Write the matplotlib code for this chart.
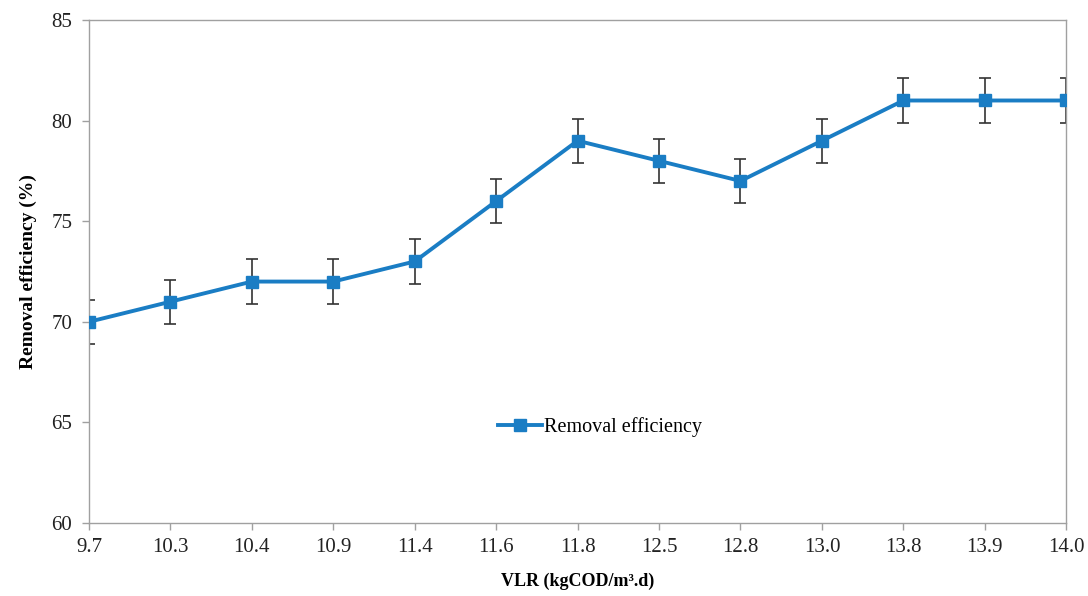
import matplotlib
matplotlib.use("Agg")
import matplotlib.pyplot as plt

vlr = ["9.7", "10.3", "10.4", "10.9", "11.4", "11.6", "11.8", "12.5", "12.8", "13.0", "13.8", "13.9", "14.0"]
removal = [70, 71, 72, 72, 73, 76, 79, 78, 77, 79, 81, 81, 81]
err = [1.1] * 13

plt.rcParams['font.family'] = ['Liberation Serif', 'DejaVu Serif']

fig = plt.figure(figsize=(10.88, 5.96), dpi=100)
ax = fig.add_axes([0.0818, 0.1225, 0.8982, 0.8439])

x = list(range(len(vlr)))
ax.errorbar(x, removal, yerr=err, fmt='none', ecolor='#333333', elinewidth=1.2,
            capsize=4, capthick=1.2, zorder=2)
ax.plot(x, removal, color='#1a7dc4', lw=2.8, marker='s', markersize=8,
        label='Removal efficiency', zorder=3)

ax.set_xlim(0, len(vlr) - 1)
ax.set_ylim(60, 85)
ax.set_yticks([60, 65, 70, 75, 80, 85])
ax.set_xticks(x)
ax.set_xticklabels(vlr)

for s in ax.spines.values():
    s.set_color('#a0a0a0')
    s.set_linewidth(1.0)
ax.tick_params(axis='both', direction='out', color='#a0a0a0', length=5, width=1.0,
               labelsize=15, colors='#222222')
ax.tick_params(axis='y', pad=7)
ax.tick_params(axis='x', pad=6)

ax.set_xlabel('VLR (kgCOD/m³.d)', fontsize=13, fontweight='bold', labelpad=11)
ax.set_ylabel('Removal efficiency (%)', fontsize=14, fontweight='bold', labelpad=10)

ax.legend(loc='center', bbox_to_anchor=(0.523, 0.19), frameon=False, fontsize=14.5,
          handlelength=2.2, handletextpad=0.1)

fig.savefig('out.png', dpi=100)
